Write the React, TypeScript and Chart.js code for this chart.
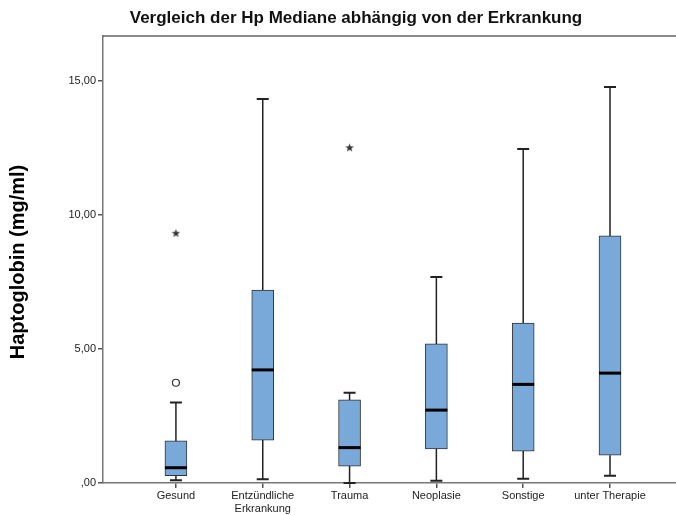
import React, { useEffect, useRef } from 'react';
import { Chart, registerables } from 'chart.js';
Chart.register(...registerables);

const categories: string[][] = [['Gesund'], ['Entzündliche', 'Erkrankung'], ['Trauma'], ['Neoplasie'], ['Sonstige'], ['unter Therapie']];
const whiskerLow = [0.1, 0.14, 0.0, 0.08, 0.16, 0.27];
const q1 = [0.27, 1.6, 0.63, 1.27, 1.19, 1.04];
const median = [0.57, 4.22, 1.32, 2.72, 3.68, 4.1];
const q3 = [1.57, 7.2, 3.1, 5.19, 5.97, 9.22];
const whiskerHigh = [3.0, 14.33, 3.37, 7.69, 12.46, 14.78];
const outlierCat = [1, 1, 3];
const outlierValue = [3.74, 9.32, 12.51];
const outlierKind = ['circle', 'star', 'star'];
const yTicks = [0, 5, 10, 15];
const titleText = 'Vergleich der Hp Mediane abhängig von der Erkrankung';
const yTitleText = 'Haptoglobin (mg/ml)';

function makeStar(): HTMLCanvasElement {
  const c = document.createElement('canvas');
  c.width = 9; c.height = 9;
  const g = c.getContext('2d')!;
  g.fillStyle = '#333';
  g.beginPath();
  for (let i = 0; i < 10; i++) {
    const r = i % 2 === 0 ? 4.5 : 1.9;
    const a = -Math.PI / 2 + (i * Math.PI) / 5;
    const x = 4.5 + r * Math.cos(a), y = 4.7 + r * Math.sin(a);
    if (i === 0) g.moveTo(x, y); else g.lineTo(x, y);
  }
  g.closePath();
  g.fill();
  return c;
}

export default function App() {
  const ref = useRef<HTMLCanvasElement>(null);
  useEffect(() => {
    document.body.style.margin = '0';
    const star = makeStar();
    const boxPlugin = {
      id: 'boxExtras',
      afterDatasetsDraw(chart: any) {
        const { ctx, chartArea } = chart;
        const xs = chart.scales.x, ys = chart.scales.y;
        ctx.save();
        ctx.strokeStyle = '#666';
        ctx.lineWidth = 1.5;
        ctx.beginPath();
        ctx.moveTo(chartArea.left, chartArea.top);
        ctx.lineTo(chartArea.right, chartArea.top);
        ctx.stroke();
        for (let i = 0; i < categories.length; i++) {
          const cx = xs.getPixelForValue(i + 1);
          const pLow = ys.getPixelForValue(whiskerLow[i]);
          const pQ1 = ys.getPixelForValue(q1[i]);
          const pQ3 = ys.getPixelForValue(q3[i]);
          const pHigh = ys.getPixelForValue(whiskerHigh[i]);
          const pMed = ys.getPixelForValue(median[i]);
          ctx.strokeStyle = '#222';
          ctx.lineWidth = 1.5;
          ctx.beginPath();
          ctx.moveTo(cx, pQ3); ctx.lineTo(cx, pHigh);
          ctx.moveTo(cx, pQ1); ctx.lineTo(cx, pLow);
          ctx.stroke();
          ctx.lineWidth = 2;
          ctx.beginPath();
          ctx.moveTo(cx - 6, pHigh); ctx.lineTo(cx + 6, pHigh);
          ctx.moveTo(cx - 6, pLow); ctx.lineTo(cx + 6, pLow);
          ctx.stroke();
          ctx.strokeStyle = '#000';
          ctx.lineWidth = 3;
          ctx.beginPath();
          ctx.moveTo(cx - 11, pMed); ctx.lineTo(cx + 11, pMed);
          ctx.stroke();
        }
        ctx.restore();
      },
      afterDraw(chart: any) {
        const { ctx } = chart;
        ctx.save();
        ctx.fillStyle = '#111';
        ctx.font = 'bold 17px "Liberation Sans", Arial, sans-serif';
        ctx.textAlign = 'center';
        ctx.textBaseline = 'middle';
        ctx.fillText(titleText, 356, 18);
        ctx.translate(18, 262);
        ctx.rotate(-Math.PI / 2);
        ctx.fillStyle = '#000';
        ctx.font = 'bold 20px "Liberation Sans", Arial, sans-serif';
        ctx.fillText(yTitleText, 0, 0);
        ctx.restore();
      },
    };
    const chart = new Chart(ref.current!, {
      type: 'bar',
      data: {
        datasets: [
          {
            type: 'bar',
            data: categories.map((_, i) => ({ x: i + 1, y: [q1[i], q3[i]] })) as any,
            backgroundColor: '#79a9d9',
            borderColor: '#333',
            borderWidth: 1,
            borderSkipped: false,
            barThickness: 22,
            grouped: false,
            order: 2,
          } as any,
          {
            type: 'scatter',
            data: outlierCat.map((c, i) => ({ x: c, y: outlierValue[i] })),
            pointStyle: outlierKind.map((k) => (k === 'star' ? star : 'circle')) as any,
            pointRadius: 3.5,
            borderColor: '#333',
            borderWidth: 1.2,
            backgroundColor: '#fff',
            order: 1,
          } as any,
        ],
      },
      options: {
        responsive: false,
        animation: false,
        layout: { autoPadding: false, padding: { top: 36, right: 0, bottom: 0, left: 0 } },
        plugins: { legend: { display: false }, tooltip: { enabled: false }, title: { display: false } },
        scales: {
          x: {
            type: 'linear',
            offset: false,
            min: 0.16,
            max: 6.76,
            afterBuildTicks: (s: any) => { s.ticks = categories.map((_, i) => ({ value: i + 1 })); },
            afterFit: (s: any) => { s.height = 32; s.paddingRight = 0; s.paddingLeft = 0; },
            grid: { display: true, offset: false, drawOnChartArea: false, drawTicks: true, tickLength: 5, color: '#555', lineWidth: 1.5 },
            border: { display: true, color: '#777', width: 1.5 },
            ticks: {
              autoSkip: false,
              maxRotation: 0,
              padding: 2,
              color: '#222',
              font: { family: '"Liberation Sans", Arial, sans-serif', size: 11, lineHeight: 1.15 },
              callback: (v: any) => categories[Math.round(v) - 1] as any,
            },
          },
          y: {
            type: 'linear',
            min: 0,
            max: 16.68,
            afterBuildTicks: (s: any) => { s.ticks = yTicks.map((v) => ({ value: v })); },
            afterFit: (s: any) => { s.width = 103; },
            grid: { display: true, drawOnChartArea: false, drawTicks: true, tickLength: 5, color: '#555', lineWidth: 1.5 },
            border: { display: true, color: '#777', width: 1.5 },
            ticks: {
              padding: 2,
              color: '#222',
              font: { family: '"Liberation Sans", Arial, sans-serif', size: 11 },
              callback: (v: any) => (v === 0 ? ',00' : Number(v).toFixed(2).replace('.', ',')),
            },
          },
        },
      },
      plugins: [boxPlugin],
    } as any);
    return () => chart.destroy();
  }, []);
  return <canvas ref={ref} width={676} height={515} style={{ display: 'block' }} />;
}
